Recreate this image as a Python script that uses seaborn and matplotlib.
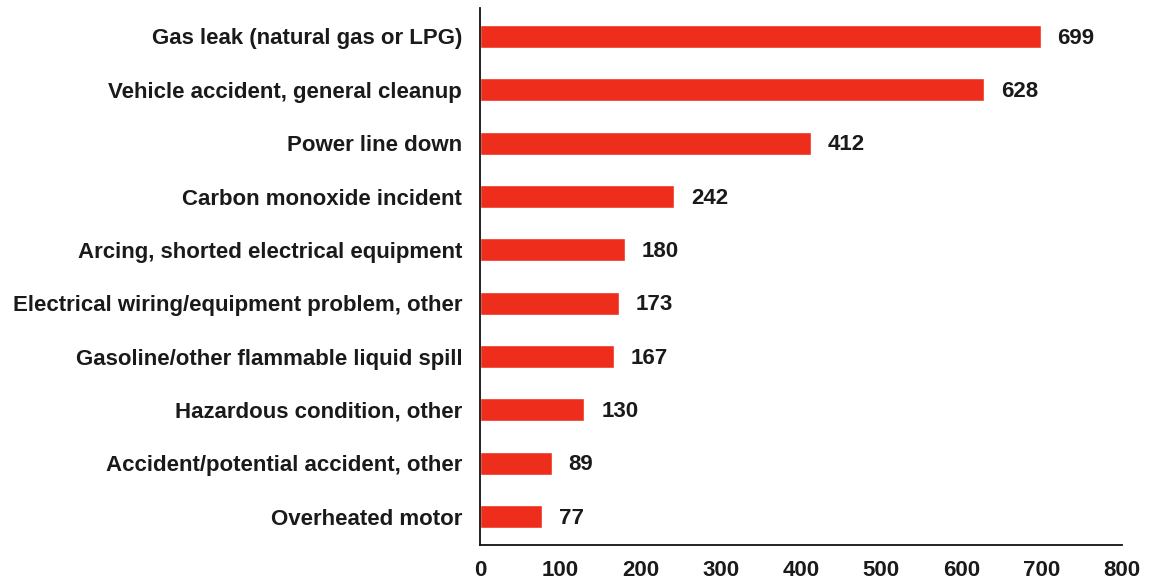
import matplotlib
matplotlib.use("Agg")
import matplotlib.pyplot as plt
import seaborn as sns
import pandas as pd

categories = [
    "Gas leak (natural gas or LPG)",
    "Vehicle accident, general cleanup",
    "Power line down",
    "Carbon monoxide incident",
    "Arcing, shorted electrical equipment",
    "Electrical wiring/equipment problem, other",
    "Gasoline/other flammable liquid spill",
    "Hazardous condition, other",
    "Accident/potential accident, other",
    "Overheated motor",
]
counts = [699, 628, 412, 242, 180, 173, 167, 130, 89, 77]
x_ticks = [0, 100, 200, 300, 400, 500, 600, 700, 800]

df = pd.DataFrame({"category": categories, "count": counts})

sns.set_style("white")
plt.rcParams["font.family"] = ["Liberation Sans", "DejaVu Sans"]
plt.rcParams["font.weight"] = "bold"

fig, ax = plt.subplots(figsize=(11.6, 5.81), dpi=100)
fig.subplots_adjust(left=0.414, right=0.967, top=0.986, bottom=0.062)

sns.barplot(data=df, x="count", y="category", color="#ee2d1c",
            saturation=1, width=0.43, ax=ax)

for i, v in enumerate(counts):
    ax.text(v + 21, i + 0.03, str(v), va="center", ha="left",
            fontsize=16, fontweight="bold", color="#1a1a1a")

ax.set_xlim(0, 800)
ax.set_ylim(9.53, -0.53)
ax.set_xticks(x_ticks)
ax.set_xlabel("")
ax.set_ylabel("")

for side in ["top", "right"]:
    ax.spines[side].set_visible(False)
for side in ["left", "bottom"]:
    ax.spines[side].set_color("#111111")
    ax.spines[side].set_linewidth(1.3)

ax.tick_params(axis="x", direction="out", length=6, width=1.2,
               color="#111111", labelsize=16, labelcolor="#1a1a1a", pad=5)
ax.tick_params(axis="y", length=0, labelsize=16, labelcolor="#1a1a1a", pad=13)
for lab in ax.get_xticklabels() + ax.get_yticklabels():
    lab.set_fontweight("bold")

fig.savefig("out.png", dpi=100)
